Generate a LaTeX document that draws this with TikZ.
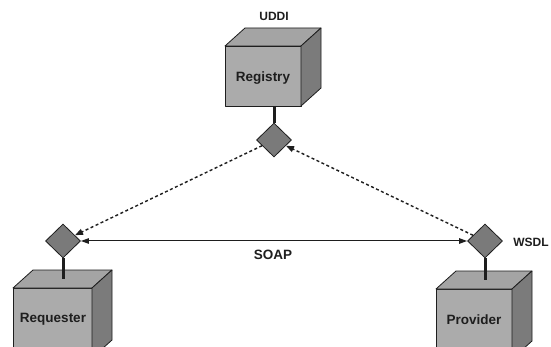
\documentclass[tikz,border=0pt]{standalone}
\usepackage{fontspec}
\setmainfont{Liberation Sans}
\usetikzlibrary{shapes.geometric,arrows.meta}
\definecolor{frontgray}{HTML}{ABABAB}
\definecolor{topgray}{HTML}{A4A4A4}
\definecolor{sidegray}{HTML}{7B7B7B}
\definecolor{diagray}{HTML}{7A7A7A}
\definecolor{linecol}{HTML}{1E1E1E}
\newcommand\drawcube[4]{%
  \draw[face,fill=frontgray] (#1,#2) rectangle ++(#3,#4);
  \draw[face,fill=topgray] (#1,#2) -- ++(20,-18) -- ++(#3,0) -- ++(-20,18) -- cycle;
  \draw[face,fill=sidegray] (#1+#3,#2) -- ++(20,-18) -- ++(0,#4) -- ++(-20,18) -- cycle;}
\begin{document}
\begin{tikzpicture}[x=1pt,y=-1pt,
  face/.style={draw=linecol, line width=0.8pt, line join=round},
  port/.style={diamond, draw=linecol, fill=diagray, line width=0.8pt, inner sep=0pt,
    minimum width=35pt, minimum height=34pt},
  stem/.style={draw=linecol, line width=3pt},
  lbl/.style={font=\bfseries\fontsize{13.5}{15}\selectfont, text=linecol, inner sep=0pt},
  smalllbl/.style={font=\bfseries\fontsize{12}{14}\selectfont, text=linecol, inner sep=0pt},
  dotarrow/.style={draw=linecol, line width=1.4pt, dash pattern=on 3pt off 2.5pt,
    -{Triangle[length=8pt,width=6pt]}},
  soaparrow/.style={draw=linecol, line width=1pt,
    {Triangle[length=8pt,width=5.5pt]}-{Triangle[length=8pt,width=5.5pt]}}]
\clip (0,0) rectangle (551,347);
\fill[white] (0,0) rectangle (551,347);

% cubes
\drawcube{225}{46}{76}{60}
\drawcube{13}{288}{79}{70}
\drawcube{436}{289}{76}{70}

\node[lbl] (registry) at (263,78) {Registry};
\node[lbl] (requester) at (53,319) {Requester};
\node[lbl] (provider) at (474,320) {Provider};

\coordinate (regbot) at (274,106);
\coordinate (reqtop) at (63,279);
\coordinate (provtop) at (485,280);

% diamonds
\node[port] (rd) at (274,140) {};
\node[port] (qd) at (63,241) {};
\node[port] (pd) at (485,241) {};

% stems
\draw[stem] (regbot) -- (rd.north);
\draw[stem] (qd.south) -- (reqtop);
\draw[stem] (pd.south) -- (provtop);

% labels
\node[smalllbl] (uddi) at (274,16) {UDDI};
\node[smalllbl] (wsdl) at (531,242) {WSDL};
\node[lbl] (soap) at (273,255) {SOAP};

% connectors
\draw[dotarrow] (rd) -- (qd);
\draw[dotarrow] (pd) -- (rd);
\draw[soaparrow] (qd.east) -- (pd.west);
\end{tikzpicture}
\end{document}
